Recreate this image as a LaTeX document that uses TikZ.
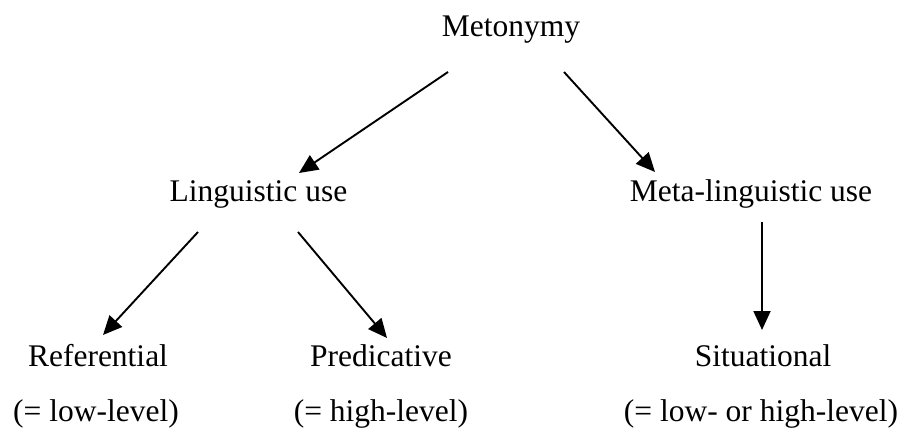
\documentclass[tikz,border=0pt]{standalone}
\usepackage{fontspec}
\setmainfont{Liberation Serif}
\usetikzlibrary{arrows.meta}
\begin{document}
\begin{tikzpicture}[x=1pt,y=-1pt,
  lbl/.style={anchor=base,inner sep=0pt,font=\fontsize{31.5}{36}\selectfont},
  arr/.style={line width=1.9pt,-{Triangle[length=19pt,width=17pt]}}]
\useasboundingbox (0,0) rectangle (901,430);
% labels
\node[lbl] (met)  at (511,37)  {Metonymy};
\node[lbl] (ling) at (258.5,202) {Linguistic use};
\node[lbl] (meta) at (751,202) {Meta-linguistic use};
\node[lbl] (ref)  at (98,366)  {Referential};
\node[lbl] (pred) at (381,366) {Predicative};
\node[lbl] (sit)  at (763,366) {Situational};
\node[lbl] (refl)  at (96,421)  {(= low-level)};
\node[lbl] (predl) at (381,421) {(= high-level)};
\node[lbl] (sitl)  at (761,421) {(= low- or high-level)};
% connectors
\draw[arr] ([xshift=-63pt,yshift=-35pt]met.base) -- ([xshift=40.5pt,yshift=29pt]ling.base);
\draw[arr] ([xshift=53pt,yshift=-35pt]met.base) -- ([xshift=-96pt,yshift=30pt]meta.base);
\draw[arr] ([xshift=-60.5pt,yshift=-30pt]ling.base) -- ([xshift=5pt,yshift=31pt]ref.base);
\draw[arr] ([xshift=39.5pt,yshift=-30pt]ling.base) -- ([xshift=6pt,yshift=28pt]pred.base);
\draw[arr] ([xshift=11pt,yshift=-20pt]meta.base) -- ([xshift=-1pt,yshift=36pt]sit.base);
\end{tikzpicture}
\end{document}
